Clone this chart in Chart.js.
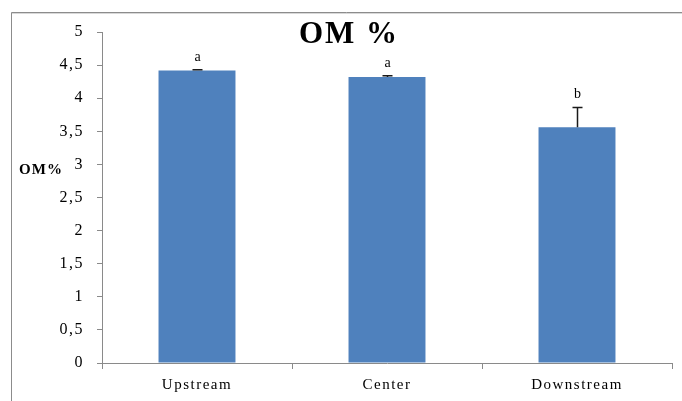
<!DOCTYPE html>
<html>
<head>
<meta charset="utf-8">
<style>
  html, body { margin: 0; padding: 0; background: #fff; }
  #wrap { width: 682px; height: 401px; position: relative; }
</style>
<script src="https://cdn.jsdelivr.net/npm/chart.js@4/dist/chart.umd.min.js"></script>
</head>
<body>
<div id="wrap"><canvas id="c" width="682" height="401"></canvas></div>
<script>
// Organic matter by site
const sites = ['Upstream', 'Center', 'Downstream'];
const omValues = [4.42, 4.32, 3.56];
const omErrors = [0.01, 0.02, 0.30];
const groupLetters = ['a', 'a', 'b'];
const yTicks = [0, 0.5, 1, 1.5, 2, 2.5, 3, 3.5, 4, 4.5, 5];

const SERIF = '"Liberation Serif", "Times New Roman", serif';
const AXIS_GREY = '#8a8a8a';

// Frame, title, horizontal axis label, error bars and group letters
const decorations = {
  id: 'decorations',
  beforeDraw(chart) {
    const ctx = chart.ctx;
    ctx.save();
    ctx.fillStyle = '#fff';
    ctx.fillRect(0, 0, chart.width, chart.height);
    ctx.strokeStyle = '#8c8c8c';
    ctx.lineWidth = 1;
    ctx.beginPath();
    ctx.moveTo(11.5, chart.height);
    ctx.lineTo(11.5, 12.5);
    ctx.lineTo(chart.width, 12.5);
    ctx.stroke();
    ctx.strokeStyle = '#d8d8d8';
    ctx.beginPath();
    ctx.moveTo(12, 13.5);
    ctx.lineTo(chart.width, 13.5);
    ctx.stroke();
    ctx.restore();
    ctx.letterSpacing = '1.5px';
  },
  afterDatasetsDraw(chart) {
    const ctx = chart.ctx;
    const y = chart.scales.y;
    const meta = chart.getDatasetMeta(0);
    ctx.save();
    ctx.letterSpacing = '0px';
    ctx.strokeStyle = '#1a1a1a';
    ctx.lineWidth = 1.5;
    meta.data.forEach((bar, i) => {
      const x = Math.round(bar.x) + 0.5;
      const top = y.getPixelForValue(omValues[i] + omErrors[i]);
      const base = y.getPixelForValue(omValues[i]);
      ctx.beginPath();
      ctx.moveTo(x, base);
      ctx.lineTo(x, top);
      ctx.moveTo(x - 5, top);
      ctx.lineTo(x + 5, top);
      ctx.stroke();
      ctx.fillStyle = '#000';
      ctx.font = '14px ' + SERIF;
      ctx.textAlign = 'center';
      ctx.textBaseline = 'alphabetic';
      ctx.fillText(groupLetters[i], x, top - 9);
    });
    ctx.restore();
  },
  afterDraw(chart) {
    const ctx = chart.ctx;
    ctx.save();
    ctx.letterSpacing = '2px';
    ctx.fillStyle = '#000';
    ctx.textAlign = 'center';
    ctx.textBaseline = 'middle';
    ctx.font = 'bold 31px ' + SERIF;
    ctx.fillText('OM %', 349, 35);
    ctx.font = 'bold 15px ' + SERIF;
    ctx.letterSpacing = '1px';
    ctx.fillText('OM%', 41, 170);
    ctx.restore();
  }
};

new Chart(document.getElementById('c'), {
  type: 'bar',
  data: {
    labels: sites,
    datasets: [{
      label: 'OM %',
      data: omValues,
      backgroundColor: '#4f81bd',
      borderWidth: 0,
      categoryPercentage: 1,
      barPercentage: 0.405
    }]
  },
  options: {
    responsive: false,
    animation: false,
    devicePixelRatio: 1,
    layout: { padding: { left: 0, right: 10, top: 32, bottom: 0 } },
    plugins: {
      legend: { display: false },
      title: { display: false },
      tooltip: { enabled: false }
    },
    scales: {
      x: {
        grid: {
          display: true,
          offset: true,
          drawOnChartArea: false,
          tickLength: 6,
          color: AXIS_GREY
        },
        border: { color: AXIS_GREY, width: 1 },
        ticks: {
          color: '#000',
          font: { family: SERIF, size: 15 },
          padding: 7
        },
        afterFit(scale) { scale.height = 38; }
      },
      y: {
        min: 0,
        max: 5,
        afterBuildTicks(scale) {
          scale.ticks = yTicks.map(v => ({ value: v }));
        },
        grid: {
          display: true,
          drawOnChartArea: false,
          tickLength: 5,
          color: AXIS_GREY
        },
        border: { color: AXIS_GREY, width: 1 },
        ticks: {
          color: '#000',
          font: { family: SERIF, size: 16 },
          padding: 13,
          callback(value) { return String(value).replace('.', ','); }
        },
        afterFit(scale) { scale.width = 102; }
      }
    }
  },
  plugins: [decorations]
});
</script>
</body>
</html>
